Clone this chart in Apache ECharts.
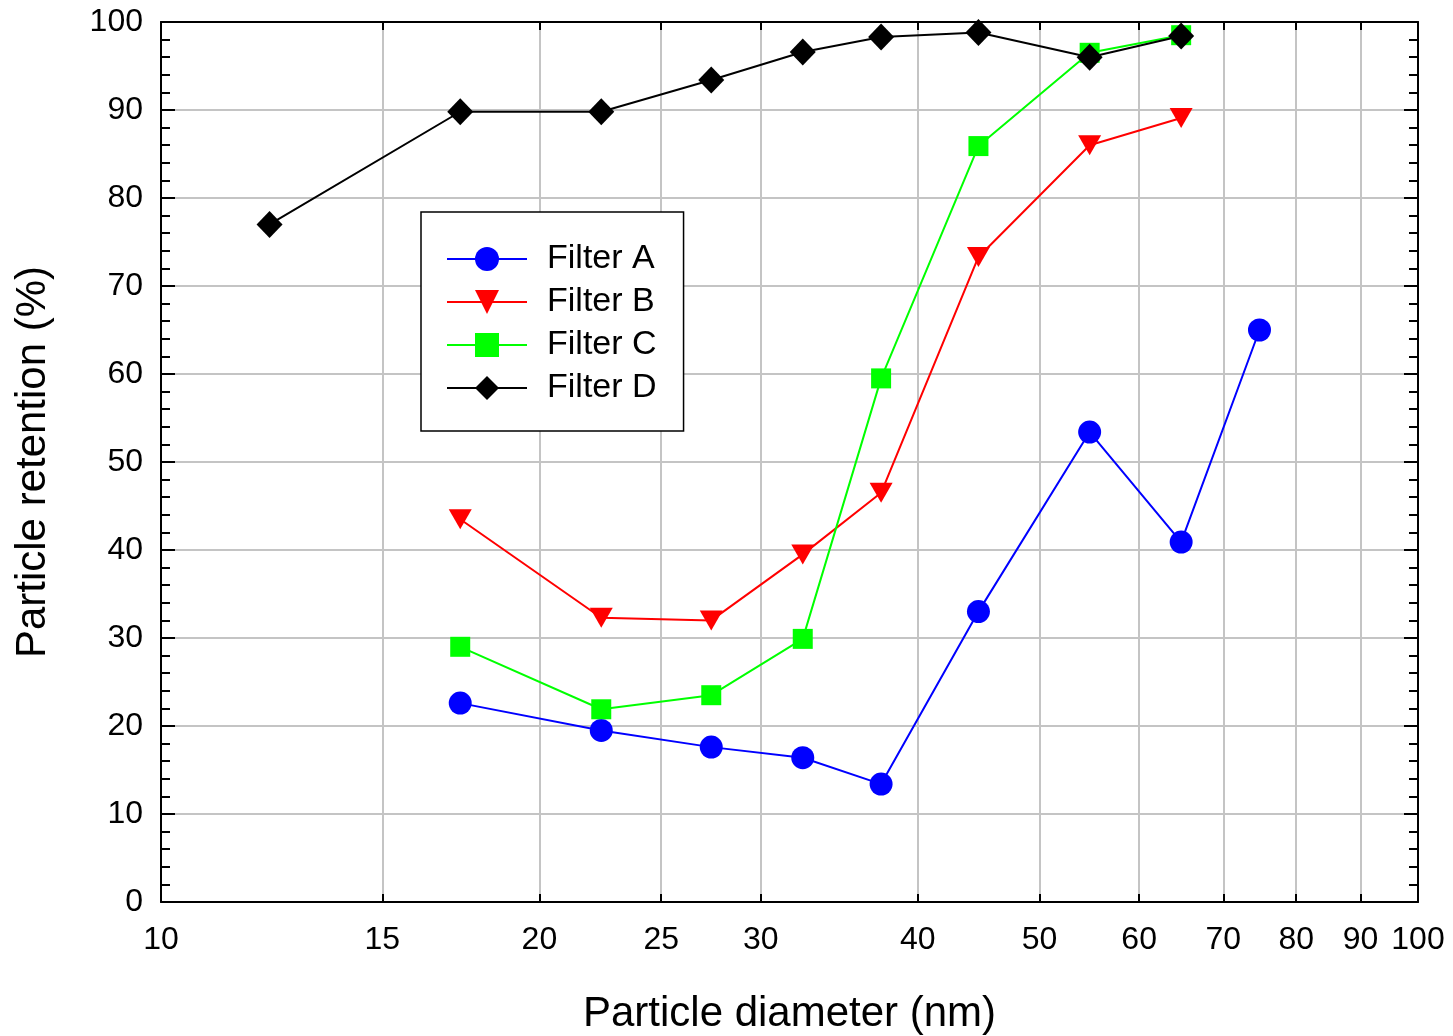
<!DOCTYPE html>
<html>
<head>
<meta charset="utf-8">
<title>Particle retention</title>
<script src="https://cdn.jsdelivr.net/npm/echarts@6/dist/echarts.min.js"></script>
<style>
  html, body { margin: 0; padding: 0; background: #fff; }
  #chart { width: 1453px; height: 1036px; }
</style>
</head>
<body>
<div id="chart"></div>
<script>
// Particle diameters (nm), shared by all filters
const diameters = [12.2, 17.3, 22.4, 27.4, 32.4, 37.4, 44.7, 54.8, 64.8, 74.8];

// Retention (%) per filter; null where the filter was not measured
const filterA = [null, 22.6, 19.5, 17.6, 16.4, 13.4, 33.0, 53.4, 40.9, 65.0];
const filterB = [null, 43.5, 32.3, 32.0, 39.5, 46.5, 73.3, 86.0, 89.1, null];
const filterC = [null, 29.0, 21.9, 23.5, 29.9, 59.5, 85.9, 96.5, 98.5, null];
const filterD = [77.0, 89.8, 89.8, 93.4, 96.6, 98.3, 98.8, 96.0, 98.4, null];

// Tick labels on the logarithmic diameter axis
const xTicks = [10, 15, 20, 25, 30, 40, 50, 60, 70, 80, 90, 100];

const FONT = '"Liberation Sans", Arial, sans-serif';

function pairs(values) {
  const out = [];
  values.forEach((v, i) => { if (v !== null) out.push([diameters[i], v]); });
  return out;
}

function lineSeries(name, values, color, symbol, size) {
  return {
    name: name,
    type: 'line',
    data: pairs(values),
    xAxisIndex: 0,
    yAxisIndex: 0,
    symbol: symbol,
    symbolSize: size,
    showAllSymbol: true,
    lineStyle: { color: color, width: 2 },
    itemStyle: { color: color, opacity: 1 },
    emphasis: { disabled: true },
    animation: false
  };
}

const chart = echarts.init(document.getElementById('chart'), null, { renderer: 'canvas' });

const xBase = {
  type: 'log',
  logBase: 10,
  min: 10,
  max: 100
};

chart.setOption({
  backgroundColor: '#ffffff',
  animation: false,
  textStyle: { fontFamily: FONT },
  grid: { left: 161, top: 22, width: 1257, height: 880, containLabel: false, outerBoundsMode: 'none' },
  legend: {
    orient: 'vertical',
    left: 421,
    top: 212,
    padding: [30, 27, 26, 25],
    itemWidth: 80,
    itemHeight: 30,
    itemGap: 9,
    borderColor: '#000',
    borderWidth: 1.5,
    backgroundColor: '#fff',
    symbolRotate: 'inherit',
    textStyle: { fontSize: 34, color: '#000', fontFamily: FONT, padding: [0, 0, 0, 15] },
    data: ['Filter A', 'Filter B', 'Filter C', 'Filter D']
  },
  xAxis: [
    Object.assign({}, xBase, {
      position: 'bottom',
      name: 'Particle diameter (nm)',
      nameLocation: 'middle',
      nameGap: 91,
      nameTextStyle: { fontSize: 42, color: '#000', fontFamily: FONT },
      axisLine: { show: true, onZero: false, lineStyle: { color: '#000', width: 2 } },
      axisTick: { show: true, inside: true, length: 8, customValues: xTicks, lineStyle: { color: '#000', width: 2 } },
      axisLabel: {
        show: true, customValues: xTicks, margin: 22, fontSize: 32, color: '#000', fontFamily: FONT,
        formatter: v => String(Math.round(v))
      },
      splitLine: { show: true, lineStyle: { color: '#c4c4c4', width: 2 } },
      minorTick: { show: false },
      minorSplitLine: { show: false }
    }),
    Object.assign({}, xBase, {
      position: 'top',
      axisLine: { show: true, onZero: false, lineStyle: { color: '#000', width: 2 } },
      axisTick: { show: true, inside: true, length: 8, customValues: xTicks, lineStyle: { color: '#000', width: 2 } },
      axisLabel: { show: false, customValues: xTicks },
      splitLine: { show: false }
    })
  ],
  yAxis: [
    {
      type: 'value',
      position: 'left',
      min: 0,
      max: 100,
      interval: 10,
      name: 'Particle retention (%)',
      nameLocation: 'middle',
      nameGap: 107,
      nameTextStyle: { fontSize: 42, color: '#000', fontFamily: FONT },
      axisLine: { show: true, onZero: false, lineStyle: { color: '#000', width: 2 } },
      axisTick: { show: true, inside: true, length: 14, lineStyle: { color: '#000', width: 2 } },
      minorTick: { show: true, splitNumber: 5, length: 9, lineStyle: { color: '#000', width: 2 } },
      axisLabel: { show: true, margin: 18, fontSize: 32, color: '#000', fontFamily: FONT },
      splitLine: { show: true, lineStyle: { color: '#c4c4c4', width: 2 } }
    },
    {
      type: 'value',
      position: 'right',
      min: 0,
      max: 100,
      interval: 10,
      axisLine: { show: true, onZero: false, lineStyle: { color: '#000', width: 2 } },
      axisTick: { show: true, inside: true, length: 14, lineStyle: { color: '#000', width: 2 } },
      minorTick: { show: true, splitNumber: 5, length: 9, lineStyle: { color: '#000', width: 2 } },
      axisLabel: { show: false },
      splitLine: { show: false }
    }
  ],
  series: [
    lineSeries('Filter A', filterA, '#0000ff', 'circle', 23),
    lineSeries('Filter B', filterB, '#ff0000', 'path://M0,0 L2,0 L1,1.74 Z', [23, 20]),
    lineSeries('Filter C', filterC, '#00ff00', 'rect', 20),
    lineSeries('Filter D', filterD, '#000000', 'diamond', [26, 27])
  ]
});
</script>
</body>
</html>
